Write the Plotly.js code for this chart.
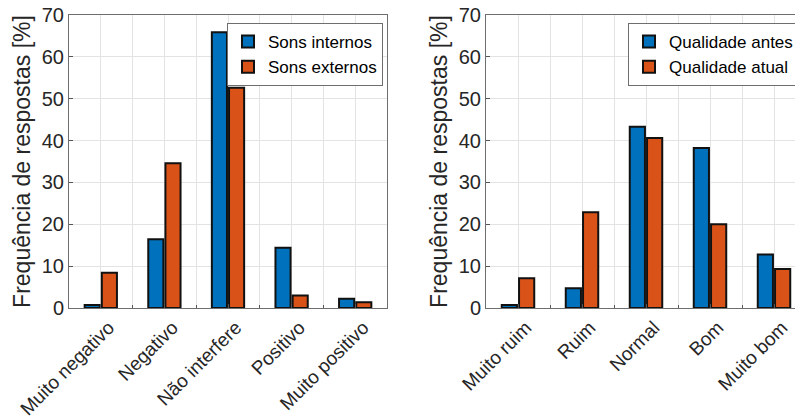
<!DOCTYPE html>
<html>
<head>
<meta charset="utf-8">
<script src="https://cdn.plot.ly/plotly-3.0.1.min.js"></script>
<style>
html,body{margin:0;padding:0;overflow:hidden;background:#fff;width:795px;height:419px;}
#chart{width:830px;height:419px;}
</style>
</head>
<body>
<div id="chart"></div>
<script>
// Left chart data
const catsLeft = ["Muito negativo", "Negativo", "Não interfere", "Positivo", "Muito positivo"];
const sonsInternos = [0.7, 16.4, 65.9, 14.4, 2.2];
const sonsExternos = [8.4, 34.6, 52.6, 3.0, 1.4];
// Right chart data
const catsRight = ["Muito ruim", "Ruim", "Normal", "Bom", "Muito bom"];
const qualidadeAntes = [0.7, 4.7, 43.3, 38.2, 12.8];
const qualidadeAtual = [7.1, 22.9, 40.6, 20.0, 9.3];
const yTicks = [0, 10, 20, 30, 40, 50, 60, 70];

const W = 830, H = 419;
const BLUE = "#0072BD", ORANGE = "#D95319";
const TXT = "#262626";
const FONT = "Liberation Sans, Arial, Helvetica, sans-serif";

const idxL = catsLeft.map((c, i) => i);
const idxR = catsRight.map((c, i) => i);
const mids = [0.5, 1.5, 2.5, 3.5];

function barTrace(x, y, name, color, xa, ya, lg) {
  return {
    type: "bar", x: x, y: y, name: name, xaxis: xa, yaxis: ya, legend: lg,
    marker: {color: color, line: {color: "#111", width: 2}},
    hoverinfo: "skip"
  };
}

const data = [
  barTrace(idxL, sonsInternos, "Sons internos", BLUE, "x", "y", "legend"),
  barTrace(idxL, sonsExternos, "Sons externos", ORANGE, "x", "y", "legend"),
  barTrace(idxR, qualidadeAntes, "Qualidade antes", BLUE, "x2", "y2", "legend2"),
  barTrace(idxR, qualidadeAtual, "Qualidade atual", ORANGE, "x2", "y2", "legend2")
];

function xaxis(domain, cats, idx, anchor) {
  return {
    domain: domain, anchor: anchor, range: [-0.5, 4.5], fixedrange: true,
    tickmode: "array", tickvals: idx, ticktext: cats, tickangle: -45,
    tickfont: {family: FONT, size: 19, color: TXT},
    ticklabelshift: 8, ticklabelstandoff: 0,
    showgrid: true, gridcolor: "#e3e3e3", gridwidth: 1,
    ticks: "inside", ticklen: 4, tickcolor: "#555",
    showline: true, linecolor: "#6e6e6e", linewidth: 1, mirror: true,
    zeroline: false, automargin: false,
    minor: {tickmode: "array", tickvals: mids, showgrid: true, gridcolor: "#e3e3e3", gridwidth: 1, ticks: "inside", ticklen: 3, tickcolor: "#555"}
  };
}
function yaxis(domain, anchor) {
  return {
    domain: domain, anchor: anchor, range: [0, 70], fixedrange: true,
    tickmode: "array", tickvals: yTicks,
    tickfont: {family: FONT, size: 20, color: TXT},
    showgrid: true, gridcolor: "#e3e3e3", gridwidth: 1,
    ticks: "inside", ticklen: 4, tickcolor: "#555",
    showline: true, linecolor: "#6e6e6e", linewidth: 1, mirror: true,
    zeroline: false, automargin: false,
    title: {text: "Frequência de respostas [%]", font: {family: FONT, size: 23, color: TXT}, standoff: 4}
  };
}

const yDom = [1 - 308 / H, 1 - 15 / H];

const layout = {
  width: W, height: H,
  margin: {l: 0, r: 0, t: 0, b: 0, pad: 0},
  paper_bgcolor: "#fff", plot_bgcolor: "#fff",
  barmode: "group", bargap: 0.46, bargroupgap: 0.12,
  font: {family: FONT, color: TXT},
  xaxis: xaxis([69 / W, 387 / W], catsLeft, idxL, "y"),
  yaxis: yaxis(yDom, "x"),
  xaxis2: xaxis([486 / W, 806 / W], catsRight, idxR, "y2"),
  yaxis2: yaxis(yDom, "x2"),
  legend: {
    x: 227 / W, y: 1 - 23 / H, xanchor: "left", yanchor: "top",
    bgcolor: "#fff", bordercolor: "#6e6e6e", borderwidth: 1,
    font: {family: FONT, size: 17, color: "#000"}, tracegroupgap: 0, itemwidth: 30
  },
  legend2: {
    x: 628 / W, y: 1 - 23 / H, xanchor: "left", yanchor: "top",
    bgcolor: "#fff", bordercolor: "#6e6e6e", borderwidth: 1,
    font: {family: FONT, size: 17, color: "#000"}, tracegroupgap: 0, itemwidth: 30
  },
  showlegend: true
};

Plotly.newPlot("chart", data, layout, {displayModeBar: false, staticPlot: true});
</script>
</body>
</html>
